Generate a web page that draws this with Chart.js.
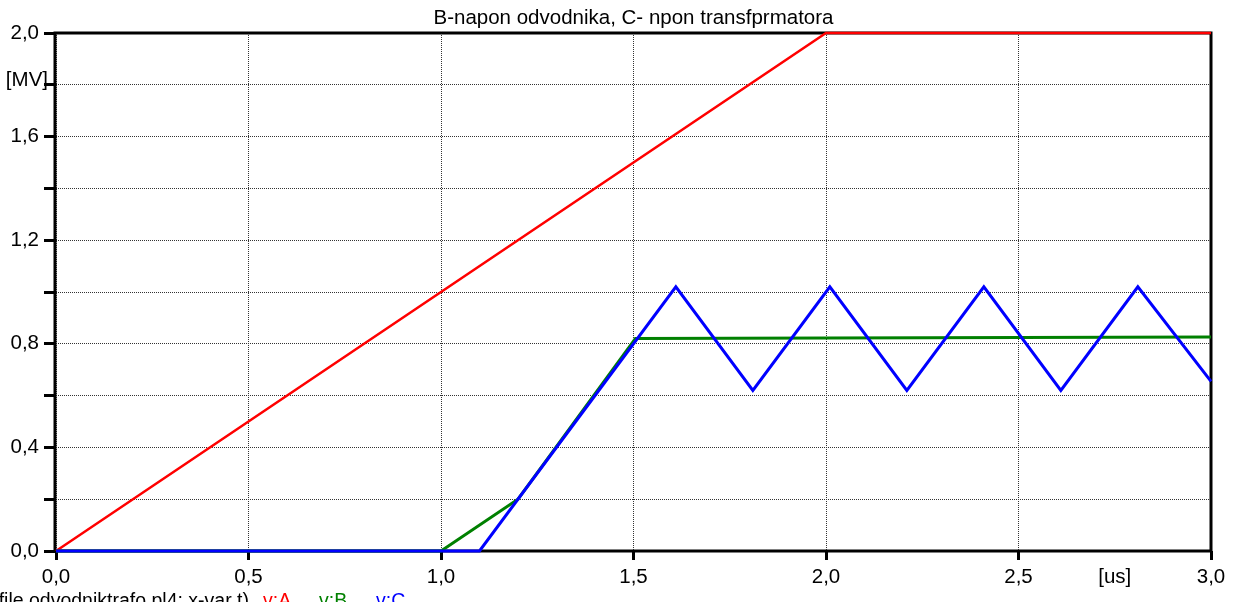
<!DOCTYPE html>
<html>
<head>
<meta charset="utf-8">
<script src="https://cdn.jsdelivr.net/npm/chart.js@4/dist/chart.umd.min.js"></script>
<style>
  html, body { margin: 0; padding: 0; background: #fff; overflow: hidden; }
  #wrap { width: 1241px; height: 602px; position: relative; }
</style>
</head>
<body>
<div id="wrap"><canvas id="c" width="1241" height="602"></canvas></div>
<script>
// Time axis [us] and voltages [MV] of the three traces
const timeA = [0, 2.0, 3.0];
const voltA = [0, 2.0, 2.0];

const timeB = [0, 1.0, 1.2, 1.505, 3.0];
const voltB = [0, 0, 0.2, 0.82, 0.826];

const timeC = [0, 1.1, 1.61, 1.81, 2.01, 2.21, 2.41, 2.61, 2.81, 3.0];
const voltC = [0, 0, 1.02, 0.62, 1.02, 0.62, 1.02, 0.62, 1.02, 0.655];

const titleText = 'B-napon odvodnika, C- npon transfprmatora';
const fileText = '(file odvodniktrafo.pl4; x-var t)';
const seriesNames = ['v:A', 'v:B', 'v:C'];
const seriesColors = ['#ff0000', '#008000', '#0000ff'];
const xUnit = '[us]';
const yUnit = '[MV]';

const FONT = '"Liberation Sans", Arial, sans-serif';
const FS = 20.5;
const FS_FOOT = 19.5;

const toPoints = (ts, vs) => ts.map((t, i) => ({ x: t, y: vs[i] }));
const fmt = v => v.toFixed(1).replace('.', ',');

// thick box around the plotting area, drawn under the traces
const framePlugin = {
  id: 'frame',
  beforeDatasetsDraw(chart) {
    const { ctx, chartArea: a } = chart;
    ctx.save();
    ctx.strokeStyle = '#000';
    ctx.lineWidth = 3;
    ctx.strokeRect(a.left - 1, a.top, a.right - a.left + 1, a.bottom - a.top);
    ctx.restore();
  }
};

// title, y unit and the file / series line at the bottom
const textPlugin = {
  id: 'texts',
  afterDraw(chart) {
    const { ctx, chartArea: a } = chart;
    const y = chart.scales.y;
    ctx.save();
    ctx.font = FS + 'px ' + FONT;
    ctx.fillStyle = '#000';
    ctx.textBaseline = 'alphabetic';
    ctx.textAlign = 'center';
    ctx.fillText(titleText, (a.left + a.right) / 2, 24);

    ctx.textAlign = 'right';
    ctx.fillText(yUnit, 48, y.getPixelForValue(1.8) + 1.5);

    ctx.font = FS_FOOT + 'px ' + FONT;
    ctx.fillText(fileText, 249, 607);
    ctx.textAlign = 'left';
    const xs = [263, 319, 376];
    seriesNames.forEach((n, i) => {
      ctx.fillStyle = seriesColors[i];
      ctx.fillText(n, xs[i], 607);
    });
    ctx.restore();
  }
};

const isMultiple = (v, step) => Math.abs(Math.round(v / step) * step - v) < 1e-6;

new Chart(document.getElementById('c'), {
  type: 'line',
  data: {
    datasets: [
      { label: seriesNames[0], data: toPoints(timeA, voltA), borderColor: seriesColors[0], borderWidth: 2.5, order: 2 },
      { label: seriesNames[1], data: toPoints(timeB, voltB), borderColor: seriesColors[1], borderWidth: 3, order: 1 },
      { label: seriesNames[2], data: toPoints(timeC, voltC), borderColor: seriesColors[2], borderWidth: 3, order: 0 }
    ].map(d => Object.assign(d, { pointRadius: 0, tension: 0, fill: false, clip: false }))
  },
  options: {
    responsive: false,
    animation: false,
    events: [],
    layout: { padding: { top: 33, right: 30, left: 0, bottom: 0 } },
    plugins: { legend: { display: false }, title: { display: false }, tooltip: { enabled: false } },
    scales: {
      x: {
        type: 'linear',
        min: 0, max: 3,
        afterFit(s) { s.height = 51; },
        afterBuildTicks(s) {
          const t = [];
          for (let i = 0; i <= 12; i++) t.push({ value: i * 0.25 });
          s.ticks = t;
        },
        ticks: {
          autoSkip: false, maxRotation: 0, padding: 5,
          color: '#000', font: { family: FONT, size: FS },
          callback(v) {
            if (Math.abs(v - 2.75) < 1e-6) return xUnit;
            return isMultiple(v, 0.5) ? fmt(v) : '';
          }
        },
        grid: {
          color: c => (c.tick && isMultiple(c.tick.value, 0.5)) ? '#333' : 'rgba(0,0,0,0)',
          tickColor: c => (c.tick && isMultiple(c.tick.value, 0.5)) ? '#000' : 'rgba(0,0,0,0)',
          lineWidth: 1, tickLength: 9, tickWidth: 3, tickBorderDash: []
        },
        border: { display: false, dash: [1, 1] }
      },
      y: {
        type: 'linear',
        min: 0, max: 2,
        afterFit(s) { s.width = 56; },
        afterBuildTicks(s) {
          const t = [];
          for (let i = 0; i <= 10; i++) t.push({ value: i * 0.2 });
          s.ticks = t;
        },
        ticks: {
          autoSkip: false, padding: 5,
          color: '#000', font: { family: FONT, size: FS },
          callback(v) {
            return isMultiple(v, 0.4) ? fmt(v) : '';
          }
        },
        grid: {
          color: '#333', lineWidth: 1, tickLength: 12, tickWidth: 3,
          tickColor: '#000', tickBorderDash: []
        },
        border: { display: false, dash: [1, 1] }
      }
    }
  },
  plugins: [framePlugin, textPlugin]
});
</script>
</body>
</html>
